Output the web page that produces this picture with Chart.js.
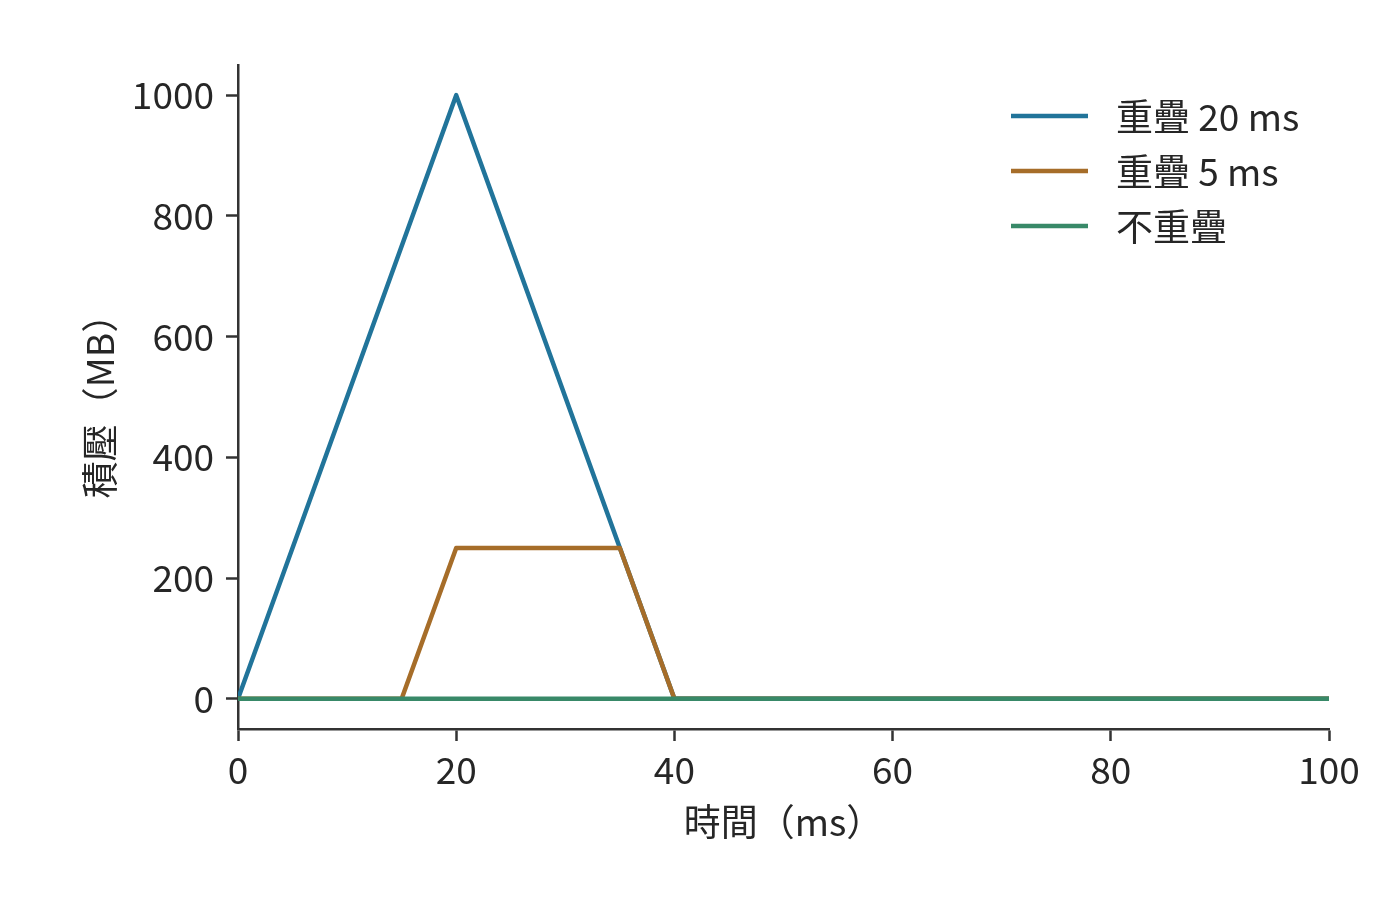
<!DOCTYPE html>
<html>
<head>
<meta charset="utf-8">
<script src="https://cdn.jsdelivr.net/npm/chart.js@4.4.0/dist/chart.umd.min.js"></script>
<style>
  html, body { margin: 0; padding: 0; background: #fff; }
  #wrap { width: 1400px; height: 912px; }
</style>
</head>
<body>
<div id="wrap"><canvas id="myChart" width="1400" height="912"></canvas></div>
<script>
// datos
const seriesNames = ['重疊 20 ms', '重疊 5 ms', '不重疊'];
const seriesColors = ['#21749a', '#a66d29', '#388968'];

const overlap20X = [0, 20, 40, 100];
const overlap20Y = [0, 1000, 0, 0];

const overlap5X = [0, 15, 20, 35, 40, 100];
const overlap5Y = [0, 0, 250, 250, 0, 0];

const noOverlapX = [0, 100];
const noOverlapY = [0, 0];

const xTicks = [0, 20, 40, 60, 80, 100];
const yTicks = [0, 200, 400, 600, 800, 1000];

const xLabel = '時間（ms）';
const yLabel = '積壓（MB）';

const FONT = '"Noto Sans CJK TC", "Noto Sans", sans-serif';
const SIZE = 37;
const AXIS = '#333333';
const TEXT = '#262626';

// convierte dos arreglos en puntos {x, y}
const toPoints = (xs, ys) => xs.map((x, i) => ({ x: x, y: ys[i] }));

const allX = [overlap20X, overlap5X, noOverlapX];
const allY = [overlap20Y, overlap5Y, noOverlapY];

const datasets = seriesNames.map((name, i) => ({
    label: name,
    data: toPoints(allX[i], allY[i]),
    borderColor: seriesColors[i],
    borderWidth: 4.5,
    pointRadius: 0,
    fill: false,
    tension: 0,
    borderJoinStyle: 'round',
    order: seriesNames.length - 1 - i     // la ultima serie queda encima
}));

// leyenda dibujada a mano dentro del area
const legendPlugin = {
    id: 'manualLegend',
    afterDraw(chart) {
        const ctx = chart.ctx;
        const x0 = 1011, x1 = 1088, tx = 1116, y0 = 116, gap = 55;
        ctx.save();
        ctx.font = SIZE + 'px ' + FONT;
        ctx.textBaseline = 'middle';
        ctx.textAlign = 'left';
        seriesNames.forEach((name, i) => {
            const y = y0 + gap * i;
            ctx.strokeStyle = seriesColors[i];
            ctx.lineWidth = 4.5;
            ctx.beginPath();
            ctx.moveTo(x0, y);
            ctx.lineTo(x1, y);
            ctx.stroke();
            ctx.fillStyle = TEXT;
            ctx.fillText(name, tx, y + 1);
        });
        ctx.restore();
    }
};

const config = {
    type: 'line',
    data: { datasets: datasets },
    options: {
        responsive: false,
        animation: false,
        devicePixelRatio: 1,
        layout: { padding: { top: 65, right: 71, bottom: 0, left: 0 } },
        plugins: {
            legend: { display: false },
            tooltip: { enabled: false }
        },
        scales: {
            x: {
                type: 'linear',
                min: 0,
                max: 100,
                afterBuildTicks: (s) => { s.ticks = xTicks.map(v => ({ value: v })); },
                afterFit: (s) => { s.height = 183; },
                ticks: { color: TEXT, font: { family: FONT, size: SIZE }, padding: 7, maxRotation: 0, callback: (v) => String(v) },
                grid: { drawOnChartArea: false, drawTicks: true, tickLength: 12, tickWidth: 2.5, tickColor: AXIS },
                border: { display: true, color: AXIS, width: 2.5 },
                title: { display: true, text: xLabel, color: TEXT, font: { family: FONT, size: SIZE }, padding: { top: 0, bottom: 68 } }
            },
            y: {
                type: 'linear',
                min: -50,
                max: 1050,
                afterBuildTicks: (s) => { s.ticks = yTicks.map(v => ({ value: v })); },
                afterFit: (s) => { s.width = 238; },
                ticks: { color: TEXT, font: { family: FONT, size: SIZE }, padding: 12, callback: (v) => String(v) },
                grid: { drawOnChartArea: false, drawTicks: true, tickLength: 12, tickWidth: 2.5, tickColor: AXIS },
                border: { display: true, color: AXIS, width: 2.5 },
                title: { display: true, text: yLabel, color: TEXT, font: { family: FONT, size: SIZE }, padding: { top: 78, bottom: 0 } }
            }
        }
    },
    plugins: [legendPlugin]
};

const ctx = document.getElementById('myChart');
const myChart = new Chart(ctx, config);
</script>
</body>
</html>
